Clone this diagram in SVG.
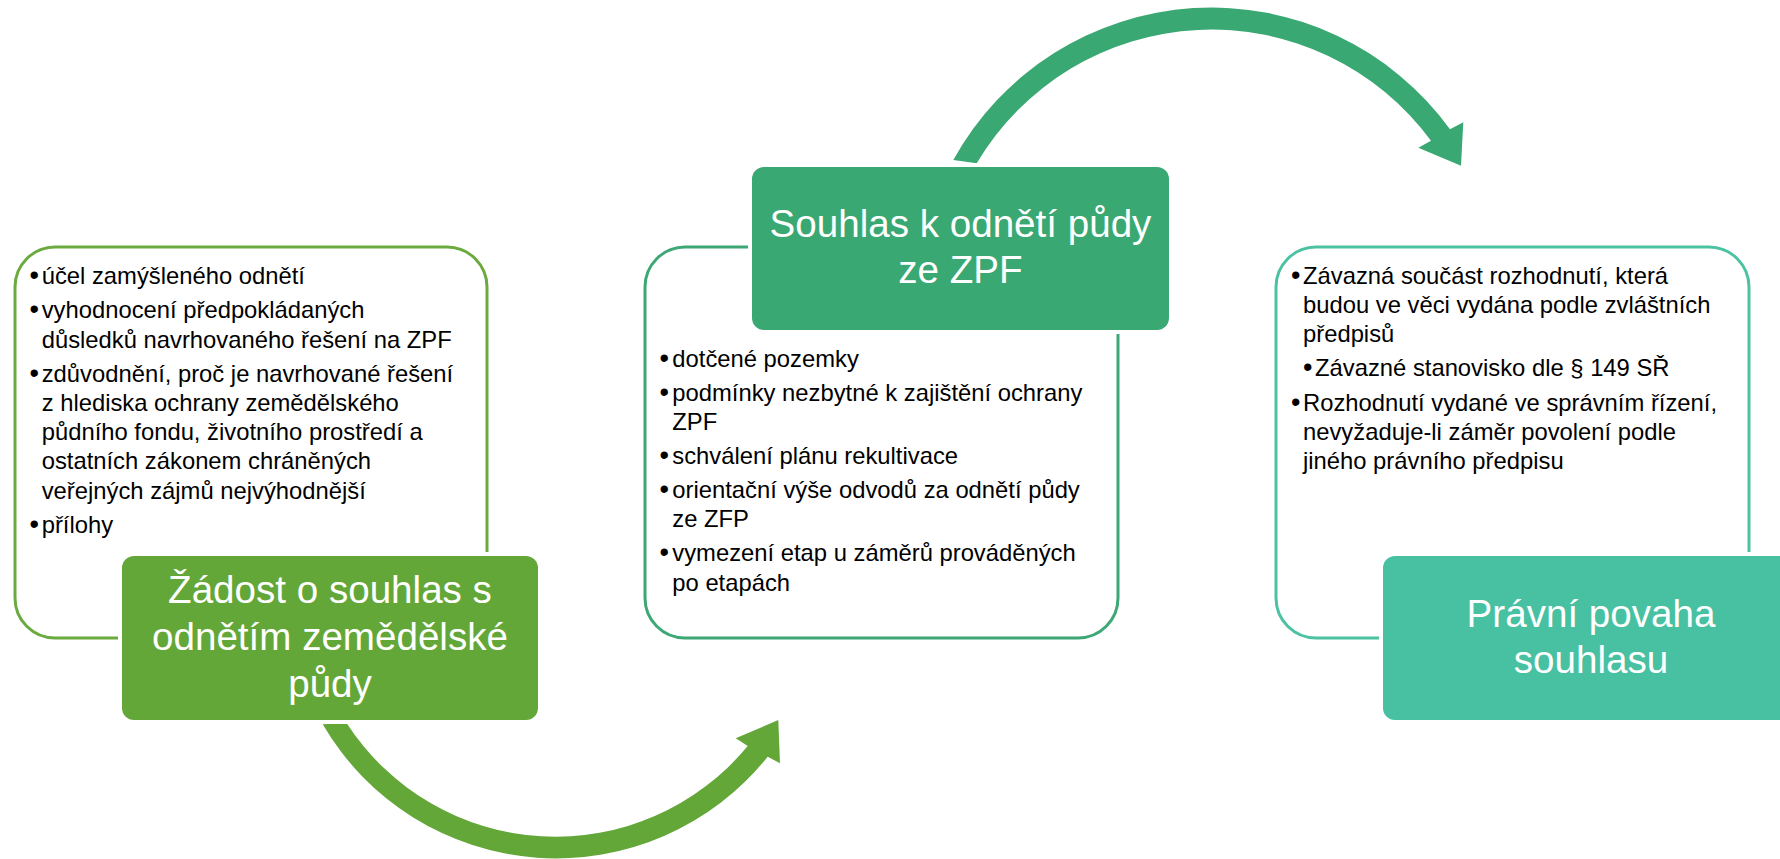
<svg xmlns="http://www.w3.org/2000/svg" width="1780" height="859" viewBox="0 0 1780 859">
<style>
.body{font-family:"Liberation Sans",Arial,sans-serif;font-size:23.8px;fill:#000}
.bul{font-family:"Liberation Sans",Arial,sans-serif;font-size:27px;fill:#000}
.title{font-family:"Liberation Sans",Arial,sans-serif;font-size:38.6px;fill:#fff;text-anchor:middle}
.panel{fill:#fff;stroke-width:3}
.gap{fill:#fff}
</style>
<rect width="1780" height="859" fill="#fff"/>
<g id="connectors">
  <path id="arrow-bottom" fill="#64A739" d="M 322.7 724.3 A 270.5 270.5 0 0 0 767.7 756.7 L 780 763.3 L 778.3 720 L 735.7 738.3 L 747.7 746 A 249 249 0 0 1 346.7 723.3 Z"/>
  <path id="arrow-top" fill="#3AA873" d="M 953.3 160 A 294.7 294.7 0 0 1 1450 129.3 L 1463.3 122.3 L 1461 165.7 L 1418.3 147.7 L 1431 140.7 A 272.7 272.7 0 0 0 976.7 163.3 Z"/>
</g>
<g id="node1">
  <rect class="panel" x="15" y="247" width="472" height="391" rx="40" stroke="#6AAA3E"/>
  <text class="bul" x="29.5" y="284">•</text><text class="body" x="41.7" y="284">účel zamýšleného odnětí</text>
  <text class="bul" x="29.5" y="318.3">•</text><text class="body" x="41.7" y="318.3">vyhodnocení předpokládaných</text>
  <text class="body" x="41.7" y="347.6">důsledků navrhovaného řešení na ZPF</text>
  <text class="bul" x="29.5" y="381.5">•</text><text class="body" x="41.7" y="381.5">zdůvodnění, proč je navrhované řešení</text>
  <text class="body" x="41.7" y="410.8">z hlediska ochrany zemědělského</text>
  <text class="body" x="41.7" y="440.1">půdního fondu, životního prostředí a</text>
  <text class="body" x="41.7" y="469.4">ostatních zákonem chráněných</text>
  <text class="body" x="41.7" y="498.7">veřejných zájmů nejvýhodnější</text>
  <text class="bul" x="29.5" y="532.5">•</text><text class="body" x="41.7" y="532.5">přílohy</text>
  <rect class="gap" x="118" y="552" width="424" height="172" rx="15"/>
  <rect x="122" y="556" width="416" height="164" rx="12" fill="#64A739"/>
  <text class="title" x="330" y="603.3">Žádost o souhlas s</text>
  <text class="title" x="330" y="650">odnětím zemědělské</text>
  <text class="title" x="330" y="696.7">půdy</text>
</g>
<g id="node2">
  <rect class="panel" x="645" y="247" width="473" height="391" rx="40" stroke="#3DA876"/>
  <text class="bul" x="659.5" y="366.7">•</text><text class="body" x="672.3" y="366.7">dotčené pozemky</text>
  <text class="bul" x="659.5" y="400.7">•</text><text class="body" x="672.3" y="400.7">podmínky nezbytné k zajištění ochrany</text>
  <text class="body" x="672.3" y="430">ZPF</text>
  <text class="bul" x="659.5" y="464">•</text><text class="body" x="672.3" y="464">schválení plánu rekultivace</text>
  <text class="bul" x="659.5" y="498">•</text><text class="body" x="672.3" y="498">orientační výše odvodů za odnětí půdy</text>
  <text class="body" x="672.3" y="527.3">ze ZFP</text>
  <text class="bul" x="659.5" y="561.3">•</text><text class="body" x="672.3" y="561.3">vymezení etap u záměrů prováděných</text>
  <text class="body" x="672.3" y="590.6">po etapách</text>
  <rect class="gap" x="748" y="163" width="425" height="171" rx="15"/>
  <rect x="752" y="167" width="417" height="163" rx="12" fill="#3AA873"/>
  <text class="title" x="960.5" y="237.3">Souhlas k odnětí půdy</text>
  <text class="title" x="960.5" y="283.3">ze ZPF</text>
</g>
<g id="node3">
  <rect class="panel" x="1276" y="247" width="473" height="391" rx="40" stroke="#4CC2A3"/>
  <text class="bul" x="1291" y="283.5">•</text><text class="body" x="1303" y="283.5">Závazná součást rozhodnutí, která</text>
  <text class="body" x="1303" y="312.8">budou ve věci vydána podle zvláštních</text>
  <text class="body" x="1303" y="342.1">předpisů</text>
  <text class="bul" x="1303" y="376">•</text><text class="body" x="1315" y="376">Závazné stanovisko dle § 149 SŘ</text>
  <text class="bul" x="1291" y="410.5">•</text><text class="body" x="1303" y="410.5">Rozhodnutí vydané ve správním řízení,</text>
  <text class="body" x="1303" y="439.8">nevyžaduje-li záměr povolení podle</text>
  <text class="body" x="1303" y="469.1">jiného právního předpisu</text>
  <rect class="gap" x="1379" y="552" width="424" height="172" rx="15"/>
  <rect x="1383" y="556" width="416" height="164" rx="12" fill="#47C1A2"/>
  <text class="title" x="1591" y="626.7">Právní povaha</text>
  <text class="title" x="1591" y="673.3">souhlasu</text>
</g>
</svg>
